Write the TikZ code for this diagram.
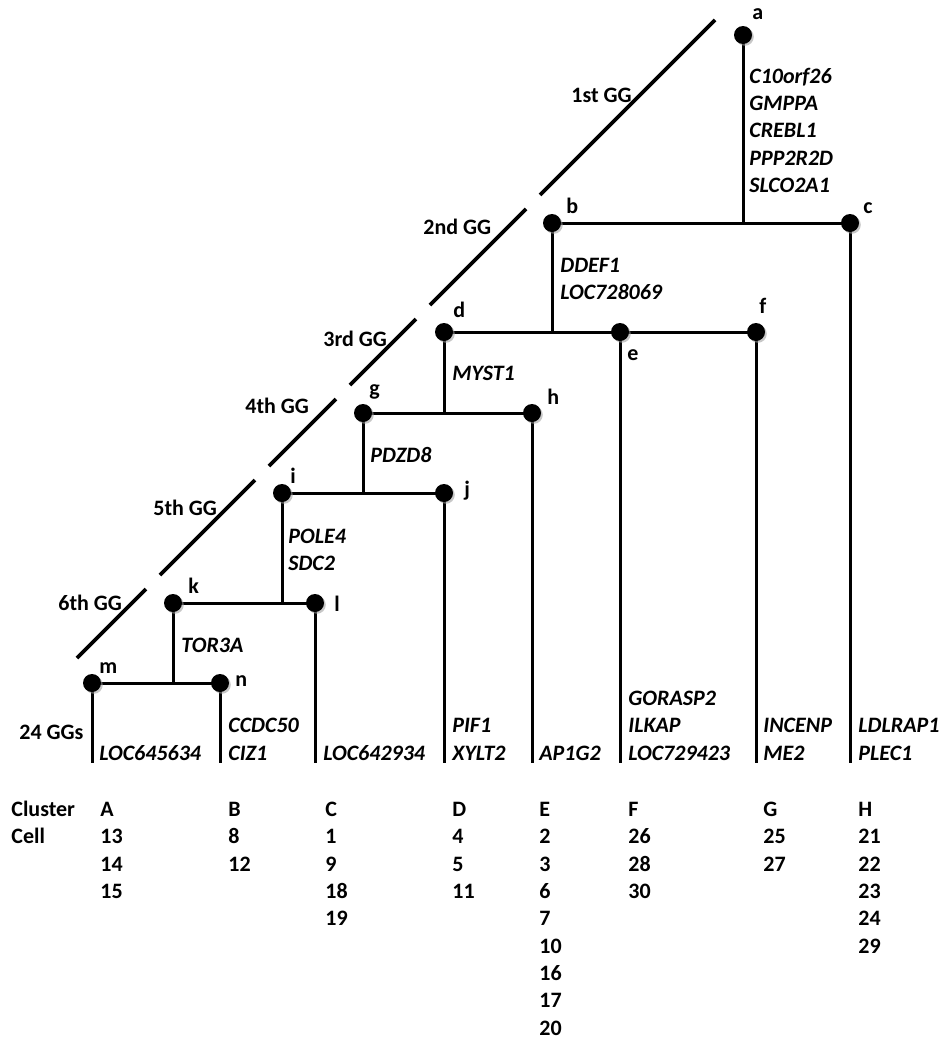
\documentclass[tikz,border=0pt]{standalone}
\usepackage{fontspec}
\setmainfont{Carlito}
\usetikzlibrary{shadows,backgrounds}
\begin{document}
\begin{tikzpicture}[x=0.5pt,y=-0.5pt,
  font=\fontsize{11pt}{13pt}\selectfont\bfseries,
  dot/.style={circle,fill=black,inner sep=0pt,minimum size=9pt,
    drop shadow={shadow xshift=0.9pt,shadow yshift=-0.9pt,fill=black!40,opacity=0.55}},
  branch/.style={line width=1.5pt},
  gglink/.style={line width=1.8pt},
  txt/.style={anchor=base west,inner sep=0pt},
  gene/.style={txt,font=\fontsize{11pt}{13pt}\selectfont\bfseries\itshape},
]
\path[use as bounding box] (0,0) rectangle (941,1039);

% ---- tree vertices ----
\node[dot] (a) at (743,35) {};
\node[dot] (b) at (552,223) {};
\node[dot] (c) at (850,223) {};
\node[dot] (d) at (444,332) {};
\node[dot] (e) at (620,332) {};
\node[dot] (f) at (756,332) {};
\node[dot] (g) at (363,413) {};
\node[dot] (h) at (532,413) {};
\node[dot] (i) at (282,493) {};
\node[dot] (j) at (444,493) {};
\node[dot] (k) at (173,603) {};
\node[dot] (l) at (315,603) {};
\node[dot] (m) at (92,683) {};
\node[dot] (n) at (220,683) {};
\coordinate (tips) at (0,763);

% ---- vertex letters ----
\node[txt] (la) at (752,19) {a};
\node[txt] (lb) at (566,213) {b};
\node[txt] (lc) at (863,213) {c};
\node[txt] (ld) at (453,317) {d};
\node[txt] (le) at (627,360) {e};
\node[txt] (lf) at (759,313) {f};
\node[txt] (lg) at (369,395) {g};
\node[txt] (lh) at (547,404) {h};
\node[txt] (li) at (290,483) {i};
\node[txt] (lj) at (464,496) {j};
\node[txt] (lk) at (188,593) {k};
\node[txt] (ll) at (334,611) {l};
\node[txt] (lm) at (99,673) {m};
\node[txt] (ln) at (235,686) {n};

% ---- branches and leaf stems ----
\begin{scope}[on background layer]
  \draw[branch] (b.center) -- (c.center);
  \draw[branch] (a.center) -- (a.center |- b.center);
  \draw[branch] (d.center) -- (f.center);
  \draw[branch] (b.center) -- (b.center |- d.center);
  \draw[branch] (g.center) -- (h.center);
  \draw[branch] (d.center) -- (d.center |- g.center);
  \draw[branch] (i.center) -- (j.center);
  \draw[branch] (g.center) -- (g.center |- i.center);
  \draw[branch] (k.center) -- (l.center);
  \draw[branch] (i.center) -- (i.center |- k.center);
  \draw[branch] (m.center) -- (n.center);
  \draw[branch] (k.center) -- (k.center |- m.center);
  \foreach \v in {m,n,l,j,h,e,f,c}
    \draw[branch] (\v.center) -- (\v.center |- tips);
\end{scope}

% ---- broken diagonal marking the gene-group levels ----
\coordinate (s1a) at (715,20);  \coordinate (s1b) at (540,195);
\coordinate (s2a) at (526,209); \coordinate (s2b) at (430,305);
\coordinate (s3a) at (416,319); \coordinate (s3b) at (350,385);
\coordinate (s4a) at (336,399); \coordinate (s4b) at (269,466);
\coordinate (s5a) at (255,480); \coordinate (s5b) at (160,575);
\coordinate (s6a) at (146,589); \coordinate (s6b) at (77,658);
\foreach \s in {1,...,6}
  \draw[gglink] (s\s a) -- (s\s b);

\node[txt] (gg1) at (571,102) {1st GG};
\node[txt] (gg2) at (423,234) {2nd GG};
\node[txt] (gg3) at (323,346) {3rd GG};
\node[txt] (gg4) at (245,413) {4th GG};
\node[txt] (gg5) at (153,515) {5th GG};
\node[txt] (gg6) at (58,610) {6th GG};
\node[txt] (gg24) at (19,739) {24 GGs};

% ---- genes on internal branches ----
\foreach \t [count=\q] in {C10orf26,GMPPA,CREBL1,PPP2R2D,SLCO2A1}
  \node[gene] (ga\q) at (749,{83+27.4*(\q-1)}) {\t};
\foreach \t [count=\q] in {DDEF1,LOC728069}
  \node[gene] (gb\q) at (560,{272+27.4*(\q-1)}) {\t};
\node[gene] (gd1) at (452,380) {MYST1};
\node[gene] (gg1x) at (370,462) {PDZD8};
\foreach \t [count=\q] in {POLE4,SDC2}
  \node[gene] (gi\q) at (288,{543+27.4*(\q-1)}) {\t};
\node[gene] (gk1) at (181,652) {TOR3A};

% ---- genes on leaf stems ----
\node[gene] (gm1) at (99,760) {LOC645634};
\node[gene] (gn1) at (228,732) {CCDC50};
\node[gene] (gn2) at (228,760) {CIZ1};
\node[gene] (gl1) at (323,760) {LOC642934};
\node[gene] (gj1) at (452,732) {PIF1};
\node[gene] (gj2) at (452,760) {XYLT2};
\node[gene] (gh1) at (539,760) {AP1G2};
\node[gene] (ge1) at (628,705) {GORASP2};
\node[gene] (ge2) at (628,732) {ILKAP};
\node[gene] (ge3) at (628,760) {LOC729423};
\node[gene] (gf1) at (763,732) {INCENP};
\node[gene] (gf2) at (763,760) {ME2};
\node[gene] (gc1) at (858,732) {LDLRAP1};
\node[gene] (gc2) at (858,760) {PLEC1};

% ---- cluster / cell table ----
\node[txt] (hcl) at (11,816.5) {Cluster};
\node[txt] (hce) at (11,843.8) {Cell};
\foreach \c/\x/\cells in {A/100/{13,14,15}, B/228/{8,12}, C/325/{1,9,18,19},
    D/452/{4,5,11}, E/539/{2,3,6,7,10,16,17,20}, F/628/{26,28,30},
    G/763/{25,27}, H/858/{21,22,23,24,29}} {
  \node[txt] (cl\c) at (\x,816.5) {\c};
  \foreach \v [count=\r] in \cells
    \node[txt] (cl\c\r) at (\x,{843.8+27.33*(\r-1)}) {\v};
}
\end{tikzpicture}
\end{document}
